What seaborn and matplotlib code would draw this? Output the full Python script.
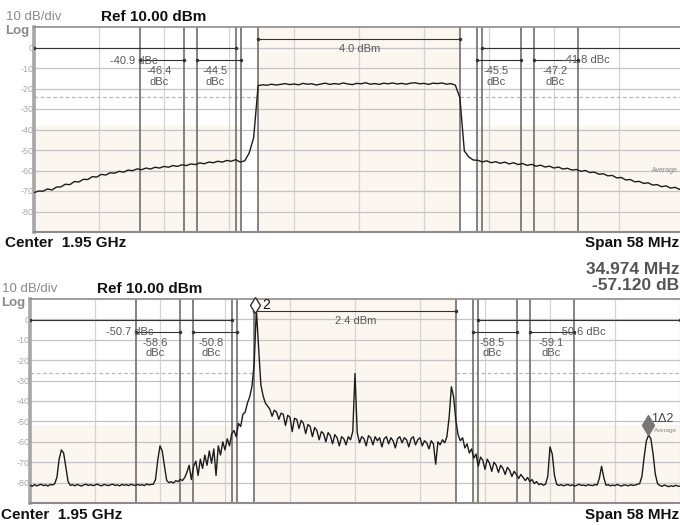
import numpy as np
import pandas as pd
import seaborn as sns
import matplotlib.pyplot as plt

# offsets from 1.95 GHz centre, MHz (span 58 MHz)
f_min, f_max = -29.0, 29.0
level_top, level_bot = 10.0, -90.0

# upper trace (channel power / ACP), 0.4 MHz bins
top_step = 0.4
top_left_start = -29.0
top_left = [-70.8, -70.0, -70.1, -69.0, -69.5, -68.1, -68.0, -66.7, -66.9, -65.4,
            -65.6, -64.3, -64.4, -63.0, -63.2, -61.9, -62.2, -61.1, -61.3, -60.4,
            -60.8, -59.8, -60.1, -59.2, -59.6, -58.8, -59.3, -58.4, -58.8, -58.0,
            -58.4, -57.6, -58.0, -57.2, -57.6, -56.8, -57.1, -56.3, -56.7, -55.9,
            -56.2, -55.5, -55.9, -55.1, -55.5, -54.7, -55.9, -55.3, -51.5, -44.0]
top_chan_start = -9.0
top_chan = [-18.6, -18.2, -18.4, -17.9, -18.3, -18.0, -17.6, -18.1, -17.8, -18.2,
            -17.5, -17.9, -17.7, -18.3, -17.8, -17.4, -18.0, -17.6, -17.9, -17.3,
            -17.8, -18.1, -17.5, -17.7, -17.2, -17.9, -17.6, -18.0, -17.4, -17.7,
            -17.3, -17.8, -17.5, -17.9, -17.4, -17.2, -17.7, -17.5, -18.0, -17.4,
            -17.6, -17.3, -17.9, -17.6, -18.4]
top_right_start = 9.0
top_right = [-24.5, -50.5, -53.4, -54.9, -55.0, -55.8, -55.3, -56.2, -55.7, -56.5,
             -55.9, -56.8, -56.2, -57.1, -56.6, -57.5, -57.0, -57.9, -57.4, -58.3,
             -57.9, -58.8, -58.3, -59.3, -58.9, -59.8, -59.5, -60.4, -60.0, -61.0,
             -60.8, -61.8, -61.6, -62.6, -62.4, -63.6, -63.4, -64.6, -64.4, -65.5,
             -65.3, -66.3, -66.0, -67.1, -66.9, -67.9, -67.5, -68.6, -68.2, -69.2, -68.8]

# lower trace (spurs), 0.2 MHz bins
bot_step = 0.2
bot_a_start = -29.0
bot_a = [-81.3, -81.8, -81.0, -81.6, -81.2, -80.8, -81.5, -81.1, -81.7, -80.9,
         -81.2, -80.6, -77.5, -68.5, -64.0, -65.5, -72.5, -79.5, -81.4,
         -81.0, -81.6, -80.9, -81.3, -81.7, -81.1, -80.8, -81.4, -81.0, -81.5,
         -81.2, -80.7, -81.3, -81.6, -80.9, -81.2, -81.5, -81.0, -80.8, -81.4,
         -81.1, -81.6, -80.9, -81.3, -81.0, -81.5, -80.8, -81.2, -81.4, -80.9,
         -81.3, -81.0, -81.5, -80.7, -81.1, -80.9,
         -80.8, -78.5, -69.0, -62.0, -64.5, -72.0, -79.0]
bot_b_start = -16.6
bot_b = [-80.0, -79.6, -80.2, -79.1, -79.5, -78.4, -79.0, -77.6,
         -75.0, -71.5, -78.5, -72.0, -69.5, -76.5, -68.5, -73.0, -66.5, -71.5, -64.5, -70.5, -63.5,
         -76.5, -62.0, -66.5, -60.0, -64.0, -58.5, -62.0, -56.0,
         -54.5, -57.5, -51.0, -52.5, -46.5, -45.5, -41.0, -38.0, -33.0, -22.0]
bot_c_start = -8.8
bot_c = [5.0, -14.0, -32.0, -37.5, -41.0, -42.5, -44.0, -47.5, -44.5, -45.5,
         -49.0, -46.0, -46.5, -52.0, -47.0, -48.0, -55.0, -48.5, -49.0, -53.5,
         -49.5, -51.0, -56.0, -51.5, -52.5, -57.5, -53.0, -54.5, -59.0, -55.0,
         -56.0, -60.0, -55.5, -57.0, -61.0, -56.5, -58.0, -62.0, -57.5, -58.5,
         -61.5, -57.5, -59.0, -55.0]
bot_d_start = 0.0
bot_d = [-26.5, -55.5, -60.5, -57.5, -58.5, -62.0, -57.0, -58.0, -61.5, -57.5,
         -59.5, -58.0, -62.5, -58.5, -57.5, -61.0, -58.0, -59.5, -63.0, -58.5,
         -57.5, -60.5, -58.0, -59.0, -62.5, -58.5, -57.5, -61.5, -59.0, -58.0,
         -62.0, -59.5, -60.5, -63.5, -59.5, -61.0, -71.0, -60.0, -61.5, -59.0,
         -60.5, -57.5, -48.0, -33.0, -38.0, -49.5, -56.5, -59.5]
bot_e_start = 9.6
bot_e = [-58.0, -63.0, -61.0, -65.5, -63.5, -68.0, -66.0, -72.0, -67.5, -69.0,
         -73.5, -68.5, -70.5, -74.5, -70.0, -71.5, -75.0, -71.5, -73.0, -76.0,
         -72.5, -74.0, -77.0, -74.5, -76.0, -78.0, -76.0, -77.5, -79.0, -77.5,
         -79.5, -78.5, -80.5, -79.5, -81.0, -80.5, -81.3, -80.8, -77.0, -62.5,
         -66.0, -76.5, -80.9]
bot_f_start = 18.2
bot_f = [-81.4, -81.0, -81.6, -81.2, -80.9, -81.5, -81.1, -81.7, -81.3, -80.8,
         -81.4, -81.2, -81.6, -81.0, -81.3, -81.5, -80.9, -81.2,
         -78.0, -72.0, -77.5,
         -81.3, -81.0, -81.6, -81.2, -81.5, -80.9, -81.4, -81.7, -81.1, -81.3,
         -81.6, -81.0, -81.4, -81.2, -80.8,
         -80.5, -77.0, -67.5, -59.5, -56.7, -58.5, -66.0, -76.0, -80.5,
         -81.4, -81.8, -81.2, -81.6, -82.0, -81.5, -81.9, -81.3, -81.7, -81.8]

# measurement channel edges (MHz offset, mirrored)
chan_edges = [9.05, 10.55, 11.0, 14.45, 15.6, 19.5]
bracket_f0 = [-9.05, -29.0, -19.5, -14.45, 10.55, 15.6, 11.0]
bracket_f1 = [9.05, -11.0, -15.6, -10.55, 14.45, 19.5, 29.0]
bracket_lv = [4.1, -0.2, -6.1, -6.1, -6.1, -6.1, -0.2]
label_f = [0.1, -20.1, -17.8, -12.8, 12.2, 17.5, 20.2]
label_lv = [-0.9, -6.4, -14.1, -14.1, -14.1, -14.1, -6.2]
top_labels = ["4.0 dBm", "-40.9 dBc", "-46.4\ndBc", "-44.5\ndBc", "-45.5\ndBc", "-47.2\ndBc", "-41.8 dBc"]
bot_labels = ["2.4 dBm", "-50.7 dBc", "-58.6\ndBc", "-50.8\ndBc", "-58.5\ndBc", "-59.1\ndBc", "-50.6 dBc"]
y_ticks = [0, -10, -20, -30, -40, -50, -60, -70, -80]


def segments_to_df(parts, step):
    rows = []
    for start, vals in parts:
        for k, v in enumerate(vals):
            rows.append((start + step * k, v))
    return pd.DataFrame(rows, columns=["freq", "level"])


top_df = segments_to_df([(top_left_start, top_left), (top_chan_start, top_chan),
                         (top_right_start, top_right)], top_step)
bot_df = segments_to_df([(bot_a_start, bot_a), (bot_b_start, bot_b), (bot_c_start, bot_c),
                         (bot_d_start, bot_d), (bot_e_start, bot_e), (bot_f_start, bot_f)], bot_step)

sns.set_theme(style="white")
plt.rcParams['font.family'] = ['Liberation Sans', 'DejaVu Sans']

W, H = 680, 525
fig = plt.figure(figsize=(6.8, 5.25), dpi=100)
fig.patch.set_facecolor("white")


def px_axes(x0, y0, x1, y1):
    return fig.add_axes([x0 / W, 1 - y1 / H, (x1 - x0) / W, (y1 - y0) / H])


def ftext(x, y, s, **kw):
    fig.text(x / W, 1 - y / H, s, va="center", **kw)


shade = "#fcf6f1"


def draw_panel(ax, df, labels, side_floor, dash_lv):
    ax.set_xlim(f_min, f_max)
    ax.set_ylim(level_bot, level_top)
    ax.set_facecolor("white")
    # limit shading
    ax.axvspan(-chan_edges[0], chan_edges[0], color=shade, lw=0, zorder=0)
    ax.fill_between([f_min, -chan_edges[1]], level_bot, side_floor, color=shade, lw=0, zorder=0)
    ax.fill_between([chan_edges[1], f_max], level_bot, side_floor, color=shade, lw=0, zorder=0)
    # graticule
    for f in np.arange(f_min, f_max + 0.01, (f_max - f_min) / 10):
        ax.axvline(f, color="#d4d4d4", lw=0.9, zorder=1)
    for lv in y_ticks:
        ax.axhline(lv, color="#c4c4c4", lw=0.9, zorder=1)
    # display line
    for a, b in [(f_min, -chan_edges[0]), (chan_edges[0], f_max)]:
        ax.plot([a, b], [dash_lv, dash_lv], color="#b8b8b8", lw=0.9, ls=(0, (3, 2)), zorder=1)
    # channel edges
    for e in chan_edges:
        ax.axvline(-e, color="#6e6e6e", lw=1.2, zorder=2)
        ax.axvline(e, color="#6e6e6e", lw=1.2, zorder=2)
    # brackets
    for a, b, lv in zip(bracket_f0, bracket_f1, bracket_lv):
        ax.plot([a, b], [lv, lv], color="#333333", lw=0.8, marker=".", ms=3, zorder=3)
    # trace
    sns.lineplot(data=df, x="freq", y="level", ax=ax, color="#1c1c1c", lw=1.0,
                 estimator=None, sort=False, zorder=5)
    for s, f, lv in zip(labels, label_f, label_lv):
        ax.text(f, lv, s, ha="center", va="center", fontsize=8, color="#5a5a5a",
                linespacing=1.05, zorder=4)
    ax.set_xlabel("")
    ax.set_ylabel("")
    ax.set_xticks([])
    ax.set_yticks(y_ticks)
    ax.set_yticklabels([str(v) for v in y_ticks])
    ax.tick_params(axis="y", length=0, pad=0.5, labelsize=6.5, labelcolor="#a8a8a8")
    ax.spines["left"].set_color("#a6a6a6")
    ax.spines["left"].set_linewidth(2.6)
    ax.spines["top"].set_color("#8c8c8c")
    ax.spines["top"].set_linewidth(1.2)
    ax.spines["bottom"].set_color("#8c8c8c")
    ax.spines["bottom"].set_linewidth(1.5)
    ax.spines["right"].set_visible(False)


ax_top = px_axes(34, 27, 684, 232)
ax_bot = px_axes(30, 299, 680, 503)
draw_panel(ax_top, top_df, top_labels, -38.5, -24.3)
draw_panel(ax_bot, bot_df, bot_labels, -52.0, -26.5)

# markers on lower trace
ax_bot.plot([-8.9], [7.0], marker="d", ms=8, mfc="white", mec="#333333", mew=1.0, zorder=6, clip_on=False)
ax_bot.text(-8.3, 7.0, "2", fontsize=10, color="#111111", va="center", ha="left", zorder=6, clip_on=False)
ax_bot.plot([26.15], [-51.8], marker="d", ms=10, color="#777777", zorder=6)
ax_bot.text(26.4, -48.6, "1\u03942", fontsize=9, color="#444444", va="center", ha="left", zorder=6)
ax_bot.text(26.7, -54.3, "Average", fontsize=4.5, color="#888888", va="center", ha="left", zorder=6)
ax_top.text(26.1, -59.8, "Average", fontsize=5, color="#888888", va="center", ha="left", zorder=6)

# annotation text
for dx, dy in [(0, 0), (-4, 272)]:
    ftext(6 + dx, 17 + dy, "10 dB/div", fontsize=9.5, color="#8a8a8a")
    ftext(5 + dx, 31 + dy, "Log", fontsize=9.5, color="#8a8a8a", fontweight="bold")
    ftext(101 + dx, 17 + dy, "Ref 10.00 dBm", fontsize=11, color="#111111", fontweight="bold")
    ftext(5 + dx, 243 + dy, "Center  1.95 GHz", fontsize=11, color="#111111", fontweight="bold")
    ftext(679, 243 + dy, "Span 58 MHz", fontsize=11, color="#111111", fontweight="bold", ha="right")

ftext(679, 269, "34.974 MHz", fontsize=12.5, color="#555555", fontweight="bold", ha="right")
ftext(679, 286, "-57.120 dB", fontsize=12.5, color="#555555", fontweight="bold", ha="right")

plt.savefig("out.png", dpi=100, facecolor="white")
